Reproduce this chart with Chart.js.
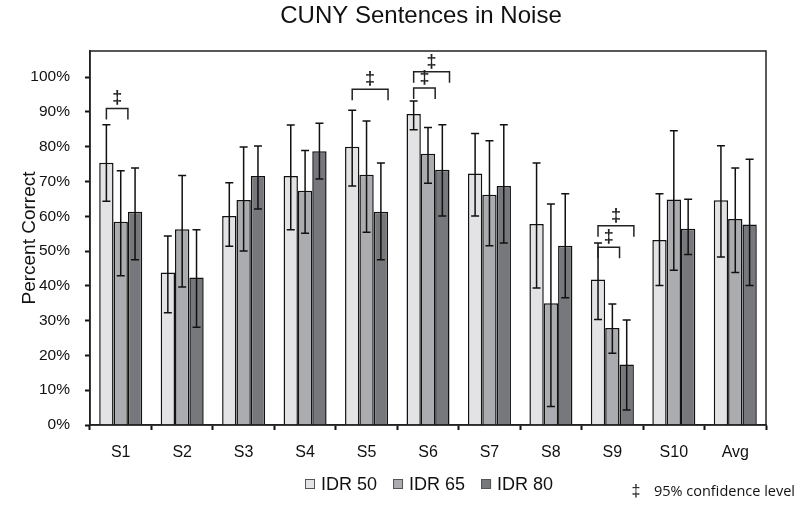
<!DOCTYPE html>
<html>
<head>
<meta charset="utf-8">
<script src="https://cdn.jsdelivr.net/npm/chart.js@4.4.0/dist/chart.umd.min.js"></script>
<style>
  html, body { margin: 0; padding: 0; background: #fff; }
  #wrap { width: 800px; height: 506px; }
</style>
</head>
<body>
<div id="wrap"><canvas id="chart"></canvas></div>
<script>
const categories = ['S1', 'S2', 'S3', 'S4', 'S5', 'S6', 'S7', 'S8', 'S9', 'S10', 'Avg'];
const seriesNames = ['IDR 50', 'IDR 65', 'IDR 80'];

const idr50 = [75.4, 43.8, 60.1, 71.6, 80.0, 89.4, 72.3, 57.8, 41.8, 53.2, 64.6];
const idr50Low = [64.3, 32.3, 51.4, 56.1, 68.7, 84.9, 60.1, 39.4, 30.3, 40.1, 48.3];
const idr50High = [86.3, 54.3, 69.6, 86.2, 90.5, 93.1, 83.8, 75.3, 52.3, 66.5, 80.3];

const idr65 = [58.4, 56.3, 64.7, 67.3, 71.9, 78.0, 66.2, 35.0, 27.9, 64.8, 59.2];
const idr65Low = [42.9, 39.7, 50.0, 55.1, 55.4, 69.5, 51.5, 5.3, 20.6, 44.5, 43.8];
const idr65High = [73.1, 71.7, 79.9, 78.9, 87.4, 85.5, 81.7, 63.5, 34.8, 84.6, 73.9];

const idr80 = [61.3, 42.4, 71.6, 78.7, 61.3, 73.4, 68.7, 51.5, 17.4, 56.4, 57.6];
const idr80Low = [47.5, 28.1, 62.1, 70.7, 47.5, 60.1, 52.3, 36.6, 4.3, 49.0, 40.1];
const idr80High = [73.9, 56.1, 80.2, 86.7, 75.3, 86.3, 86.3, 66.5, 30.2, 64.9, 76.4];

// significance brackets: [category index, from series, to series, level in %]
const sigBrackets = [
  [0, 0, 1, 91.0],
  [4, 0, 2, 96.5],
  [5, 0, 1, 96.9],
  [5, 0, 2, 101.5],
  [8, 0, 1, 51.1],
  [8, 0, 2, 57.3]
];

const yTicks = [0, 10, 20, 30, 40, 50, 60, 70, 80, 90, 100];

const errLow = [idr50Low, idr65Low, idr80Low];
const errHigh = [idr50High, idr65High, idr80High];
const colors = ['#e3e3e5', '#abacaf', '#77787b'];
const FONT = "'Liberation Sans', Arial, sans-serif";

const errorBars = {
  id: 'errorBars',
  afterDatasetsDraw(chart) {
    const { ctx, scales: { y } } = chart;
    ctx.save();
    ctx.strokeStyle = '#111';
    ctx.lineWidth = 1.5;
    chart.data.datasets.forEach((ds, i) => {
      chart.getDatasetMeta(i).data.forEach((bar, j) => {
        const top = y.getPixelForValue(errHigh[i][j]);
        const bot = y.getPixelForValue(errLow[i][j]);
        ctx.beginPath();
        ctx.moveTo(bar.x, top); ctx.lineTo(bar.x, bot);
        ctx.moveTo(bar.x - 4, top); ctx.lineTo(bar.x + 4, top);
        ctx.moveTo(bar.x - 4, bot); ctx.lineTo(bar.x + 4, bot);
        ctx.stroke();
      });
    });
    ctx.restore();
  }
};

const brackets = {
  id: 'brackets',
  afterDatasetsDraw(chart) {
    const { ctx, scales: { y } } = chart;
    ctx.save();
    ctx.strokeStyle = '#222';
    ctx.lineWidth = 1.5;
    ctx.fillStyle = '#222';
    ctx.font = `bold 18px ${FONT}`;
    ctx.textAlign = 'center';
    ctx.textBaseline = 'middle';
    sigBrackets.forEach(([cat, a, b, level]) => {
      const barA = chart.getDatasetMeta(a).data[cat];
      const barB = chart.getDatasetMeta(b).data[cat];
      const x1 = barA.x;
      const x2 = barB.x + barB.width / 2;
      const yy = y.getPixelForValue(level);
      ctx.beginPath();
      ctx.moveTo(x1, yy + 11); ctx.lineTo(x1, yy); ctx.lineTo(x2, yy); ctx.lineTo(x2, yy + 11);
      ctx.stroke();
      ctx.fillText('\u2021', (x1 + x2) / 2, yy - 10);
    });
    ctx.restore();
  }
};

const frame = {
  id: 'frame',
  afterDraw(chart) {
    const { ctx, chartArea: a } = chart;
    ctx.save();
    ctx.strokeStyle = '#222';
    ctx.lineWidth = 1.5;
    ctx.strokeRect(a.left, a.top, a.right - a.left, a.bottom - a.top);
    ctx.fillStyle = '#111';
    ctx.textBaseline = 'middle';
    ctx.textAlign = 'center';
    ctx.font = `24px ${FONT}`;
    ctx.fillText('CUNY Sentences in Noise', 421, 16);

    // legend
    ctx.textAlign = 'left';
    ctx.font = `18px ${FONT}`;
    let x = 305;
    const ly = 484;
    chart.data.datasets.forEach((ds) => {
      ctx.fillStyle = ds.backgroundColor;
      ctx.fillRect(x, ly - 5, 10, 10);
      ctx.strokeStyle = '#555';
      ctx.lineWidth = 1;
      ctx.strokeRect(x + 0.5, ly - 4.5, 9, 9);
      ctx.fillStyle = '#111';
      ctx.fillText(ds.label, x + 16, ly + 1);
      x += 16 + ctx.measureText(ds.label).width + 16;
    });

    ctx.font = "14.5px 'Open Sans', sans-serif";
    ctx.textAlign = 'right';
    ctx.fillText('95% confidence level', 795, 492);
    ctx.textAlign = 'center';
    ctx.font = `16px ${FONT}`;
    ctx.fillText('\u2021', 636, 492);
    ctx.restore();
  }
};

new Chart(document.getElementById('chart'), {
  type: 'bar',
  data: {
    labels: categories,
    datasets: [idr50, idr65, idr80].map((values, i) => ({
      label: seriesNames[i],
      data: values,
      backgroundColor: colors[i],
      borderColor: '#111',
      borderWidth: 1.5,
      categoryPercentage: 0.7,
      barPercentage: 1.0
    }))
  },
  options: {
    responsive: true,
    maintainAspectRatio: false,
    animation: false,
    layout: { padding: { top: 51, right: 34, left: 0, bottom: 0 } },
    scales: {
      x: {
        afterFit(scale) { scale.height = 81; },
        grid: { offset: true, drawOnChartArea: false, tickLength: 5, tickColor: '#111', tickWidth: 2 },
        border: { color: '#222', width: 1.5 },
        ticks: { color: '#111', padding: 13, font: { family: FONT, size: 16 } }
      },
      y: {
        min: 0,
        max: 107.5,
        afterFit(scale) { scale.width = 90; },
        afterBuildTicks(scale) { scale.ticks = yTicks.map((v) => ({ value: v })); },
        grid: { drawOnChartArea: false, tickLength: 5, tickColor: '#111', tickWidth: 2 },
        border: { color: '#222', width: 1.5 },
        ticks: { color: '#111', padding: 15, font: { family: FONT, size: 15.5 }, callback: (v) => v + '%' },
        title: { display: true, text: 'Percent Correct', color: '#111', padding: { top: 18, bottom: 0 }, font: { family: FONT, size: 19 } }
      }
    },
    plugins: {
      legend: { display: false },
      tooltip: { enabled: false }
    }
  },
  plugins: [errorBars, brackets, frame]
});
</script>
</body>
</html>
